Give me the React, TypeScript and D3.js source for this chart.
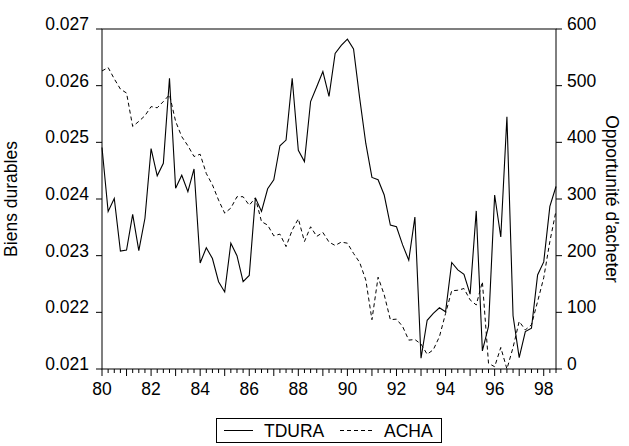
import { line, range, scaleLinear, select } from 'd3';
import React, { useEffect, useRef } from 'react';

const WIDTH = 629;
const HEIGHT = 446;
const LEFT = 102;
const RIGHT = 556;
const TOP = 29;
const BOTTOM = 369;
const FONT = 'Liberation Sans, Arial, sans-serif';
const FS = 17.5;

// quarterly observations, 1980Q1 - 1998Q3
const startYear = 1980;

const tdura = [
  0.02491, 0.02378, 0.02401, 0.02308, 0.0231, 0.02373, 0.02309, 0.02366, 0.02489, 0.02441,
  0.02463, 0.02613, 0.02419, 0.02442, 0.02413, 0.02453, 0.02287, 0.02314, 0.02295, 0.02254,
  0.02236, 0.02322, 0.023, 0.02254, 0.02265, 0.02402, 0.02378, 0.02418, 0.02434, 0.02494,
  0.02504, 0.02613, 0.02486, 0.02466, 0.02572, 0.02598, 0.02625, 0.02581, 0.02657, 0.02671,
  0.02682, 0.02665, 0.02578, 0.02498, 0.02438, 0.02434, 0.02407, 0.02354, 0.02351, 0.02319,
  0.02292, 0.02368, 0.02119, 0.02186, 0.02198, 0.02208, 0.02201, 0.02288, 0.02275, 0.02267,
  0.02232, 0.02379, 0.02132, 0.02175, 0.02407, 0.02333, 0.02545, 0.02194, 0.0212, 0.02166,
  0.02172, 0.02266, 0.02289, 0.02387, 0.02422,
];

const acha = [
  526, 532, 512, 494, 487, 428, 437, 447, 463, 461,
  472, 484, 437, 410, 394, 375, 379, 345, 325, 298,
  275, 284, 304, 304, 289, 302, 260, 254, 235, 238,
  216, 245, 265, 225, 251, 234, 241, 224, 218, 224,
  222, 204, 188, 157, 87, 162, 131, 87, 88, 75,
  51, 52, 44, 26, 34, 57, 98, 138, 139, 142,
  122, 113, 154, 10, 4, 38, 0, 38, 84, 69,
  78, 119, 161, 225, 279,
];

const leftTicks = [0.021, 0.022, 0.023, 0.024, 0.025, 0.026, 0.027];
const rightTicks = [0, 100, 200, 300, 400, 500, 600];
const yearLabels = ['80', '82', '84', '86', '88', '90', '92', '94', '96', '98'];

const App = (): JSX.Element => {
  const ref = useRef<SVGSVGElement>(null);

  useEffect(() => {
    if (ref.current === null) return;
    ref.current.replaceChildren();

    const n = tdura.length;
    const x = scaleLinear().domain([0, n - 1]).range([LEFT, RIGHT]);
    const yL = scaleLinear().domain([0.021, 0.027]).range([BOTTOM, TOP]);
    const yR = scaleLinear().domain([0, 600]).range([BOTTOM, TOP]);

    const svg = select(ref.current)
      .attr('width', WIDTH)
      .attr('height', HEIGHT)
      .style('position', 'absolute')
      .style('left', 0)
      .style('top', 0)
      .style('font-family', FONT);

    svg.append('rect').attr('width', WIDTH).attr('height', HEIGHT).attr('fill', 'white');

    // series
    svg
      .append('path')
      .attr('d', line<number>().x((_, i) => x(i)).y((d) => yR(d))(acha))
      .attr('fill', 'none')
      .attr('stroke', 'black')
      .attr('stroke-width', 1)
      .attr('stroke-dasharray', '4,3');
    svg
      .append('path')
      .attr('d', line<number>().x((_, i) => x(i)).y((d) => yL(d))(tdura))
      .attr('fill', 'none')
      .attr('stroke', 'black')
      .attr('stroke-width', 1.1);

    // frame
    svg
      .append('rect')
      .attr('x', LEFT)
      .attr('y', TOP)
      .attr('width', RIGHT - LEFT)
      .attr('height', BOTTOM - TOP)
      .attr('fill', 'none')
      .attr('stroke', 'black')
      .attr('stroke-width', 1);

    // left axis
    leftTicks.forEach((t) => {
      const y = yL(t);
      svg.append('line').attr('x1', LEFT - 6).attr('x2', LEFT).attr('y1', y).attr('y2', y).attr('stroke', 'black');
      svg
        .append('text')
        .attr('x', LEFT - 13)
        .attr('y', y + 1)
        .attr('text-anchor', 'end')
        .attr('font-size', FS)
        .text(t.toFixed(3));
    });

    // right axis
    rightTicks.forEach((t) => {
      const y = yR(t);
      svg.append('line').attr('x1', RIGHT).attr('x2', RIGHT + 6).attr('y1', y).attr('y2', y).attr('stroke', 'black');
      svg
        .append('text')
        .attr('x', RIGHT + 11)
        .attr('y', y + 1)
        .attr('text-anchor', 'start')
        .attr('font-size', FS)
        .text(String(t));
    });

    // bottom axis: quarterly minor ticks, yearly major ticks
    range(n).forEach((i) => {
      const major = i % 4 === 0;
      svg
        .append('line')
        .attr('x1', x(i))
        .attr('x2', x(i))
        .attr('y1', BOTTOM)
        .attr('y2', BOTTOM + (major ? 7 : 4))
        .attr('stroke', 'black');
    });
    yearLabels.forEach((lab) => {
      const i = (1900 + parseInt(lab) - startYear) * 4;
      svg
        .append('text')
        .attr('x', x(i))
        .attr('y', 395)
        .attr('text-anchor', 'middle')
        .attr('font-size', FS)
        .text(lab);
    });

    // axis titles
    svg
      .append('text')
      .attr('transform', `translate(17, ${(TOP + BOTTOM) / 2}) rotate(-90)`)
      .attr('text-anchor', 'middle')
      .attr('font-size', FS)
      .text('Biens durables');
    svg
      .append('text')
      .attr('transform', `translate(606, ${(TOP + BOTTOM) / 2}) rotate(90)`)
      .attr('text-anchor', 'middle')
      .attr('font-size', FS)
      .text("Opportunité d'acheter");

    // legend
    const lg = svg.append('g');
    lg.append('rect').attr('x', 216.5).attr('y', 418.5).attr('width', 225).attr('height', 24).attr('fill', 'white').attr('stroke', 'black');
    lg.append('line').attr('x1', 224).attr('x2', 253).attr('y1', 430.5).attr('y2', 430.5).attr('stroke', 'black');
    lg.append('text').attr('x', 264).attr('y', 437).attr('font-size', FS).text('TDURA');
    lg.append('line').attr('x1', 340).attr('x2', 373).attr('y1', 430.5).attr('y2', 430.5).attr('stroke', 'black').attr('stroke-dasharray', '4,3');
    lg.append('text').attr('x', 384).attr('y', 437).attr('font-size', FS).text('ACHA');
  }, []);

  return <svg ref={ref} />;
};

export default App;
